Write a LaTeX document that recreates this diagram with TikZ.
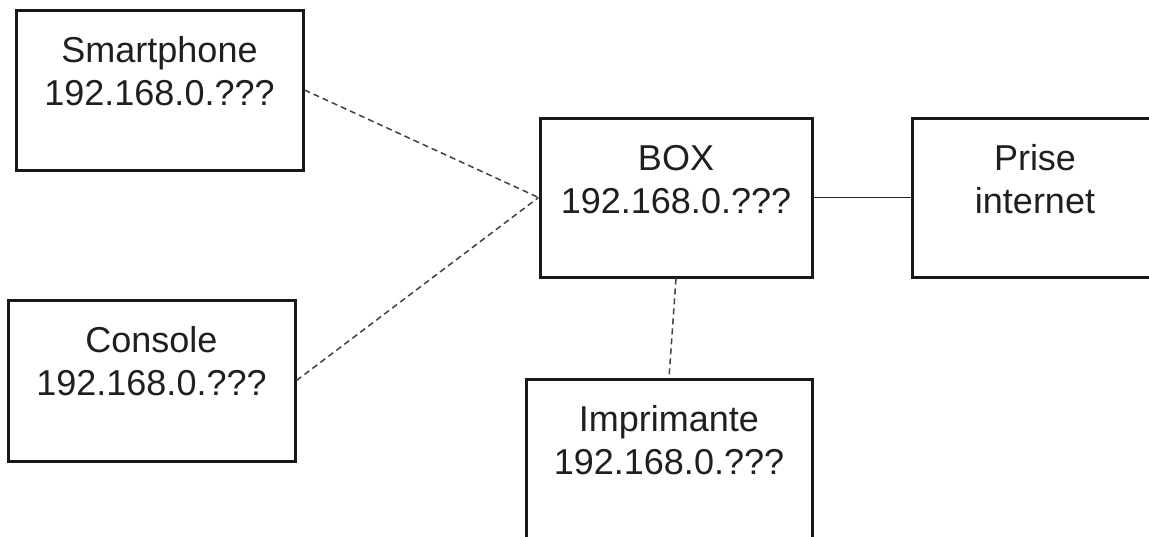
\documentclass[tikz,border=0pt]{standalone}
\usepackage{fontspec}
\setmainfont{Liberation Sans}
\begin{document}
\begin{tikzpicture}[x=1pt,y=-1pt,
  device/.style={draw=black!90, line width=3pt, rectangle, inner sep=0pt},
  txt/.style={anchor=base, inner sep=0pt, text=black!88,
    font=\fontsize{36}{44}\selectfont},
  wifi/.style={draw=black!75, line width=1.5pt, dash pattern=on 6pt off 4pt},
  wire/.style={draw=black!85, line width=1.5pt}]
\path[use as bounding box, clip] (0,0) rectangle (1149,536);

% equipment boxes
\node[device, minimum width=287pt, minimum height=160pt] (sp)    at (159.5,90)  {};
\node[device, minimum width=287pt, minimum height=161pt] (co)    at (151.5,380.5) {};
\node[device, minimum width=272pt, minimum height=159pt] (box)   at (676,197.5) {};
\node[device, minimum width=246pt, minimum height=159pt] (prise) at (1035,197.5) {};
\node[device, minimum width=286pt, minimum height=160pt] (imp)   at (669,459)   {};

% labels
\node[txt] (sp1) at ([yshift=-54pt]sp.north) {Smartphone};
\node[txt] (sp2) at ([yshift=-97pt]sp.north) {192.168.0.???};
\node[txt] (co1) at ([yshift=-54pt]co.north) {Console};
\node[txt] (co2) at ([yshift=-97pt]co.north) {192.168.0.???};
\node[txt] (bx1) at ([yshift=-54pt]box.north) {BOX};
\node[txt] (bx2) at ([yshift=-97pt]box.north) {192.168.0.???};
\node[txt] (pr1) at ([yshift=-54pt]prise.north) {Prise};
\node[txt] (pr2) at ([yshift=-97pt]prise.north) {internet};
\node[txt] (im1) at ([yshift=-54pt]imp.north) {Imprimante};
\node[txt] (im2) at ([yshift=-97pt]imp.north) {192.168.0.???};

% links
\draw[wifi] (sp.east) -- (box.west);
\draw[wifi] (co.east) -- (box.west);
\draw[wifi] (box.south) -- (imp.north);
\draw[wire] (box.east) -- (prise.west);
\end{tikzpicture}
\end{document}
